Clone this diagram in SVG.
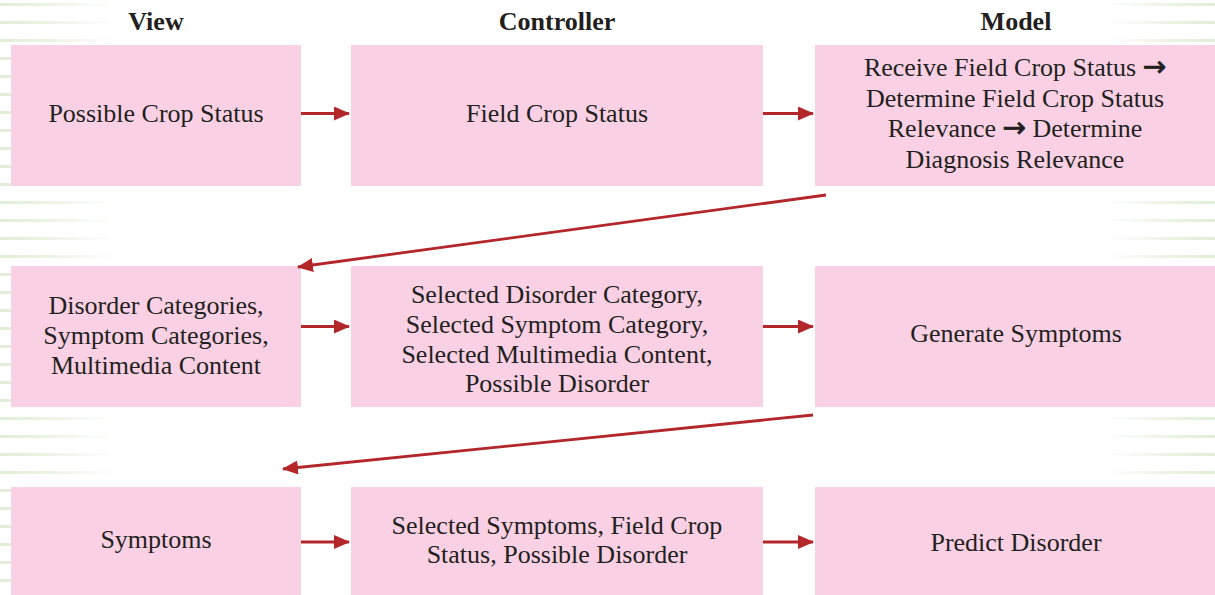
<svg xmlns="http://www.w3.org/2000/svg" width="1215" height="595" viewBox="0 0 1215 595">
  <style>
    .box { fill: #fad1e4; }
    .t { font-family: "Liberation Serif", "Times New Roman", serif; font-size: 26px; fill: #231f20; text-anchor: middle; }
    .h { font-family: "Liberation Serif", "Times New Roman", serif; font-size: 26px; font-weight: bold; fill: #231f20; text-anchor: middle; }
    .ar { font-family: "DejaVu Sans", sans-serif; font-size: 28px; stroke: #231f20; stroke-width: 0.8; }
    .c { stroke: #b3262a; stroke-width: 2.8; fill: none; marker-end: url(#ah); }
  </style>
  <defs>
    <marker id="ah" markerUnits="userSpaceOnUse" markerWidth="16" markerHeight="14" refX="15" refY="7" orient="auto">
      <path d="M0,0 L16,7 L0,14 z" fill="#b3262a"/>
    </marker>
    <pattern id="stripes" patternUnits="userSpaceOnUse" width="20" height="18" y="3">
      <rect x="0" y="0" width="20" height="3" fill="#e1edd6"/>
    </pattern>
    <linearGradient id="fadeL" x1="0" y1="0" x2="1" y2="0">
      <stop offset="0" stop-color="#fff" stop-opacity="1"/>
      <stop offset="0.5" stop-color="#fff" stop-opacity="0.55"/>
      <stop offset="1" stop-color="#fff" stop-opacity="0"/>
    </linearGradient>
    <linearGradient id="fadeR" x1="1" y1="0" x2="0" y2="0">
      <stop offset="0" stop-color="#fff" stop-opacity="1"/>
      <stop offset="0.5" stop-color="#fff" stop-opacity="0.55"/>
      <stop offset="1" stop-color="#fff" stop-opacity="0"/>
    </linearGradient>
    <mask id="mL" maskUnits="userSpaceOnUse" x="0" y="0" width="120" height="595">
      <rect x="0" y="0" width="115" height="595" fill="url(#fadeL)"/>
    </mask>
    <mask id="mR" maskUnits="userSpaceOnUse" x="1100" y="0" width="115" height="595">
      <rect x="1105" y="0" width="110" height="595" fill="url(#fadeR)"/>
    </mask>
  </defs>

  <rect x="0" y="0" width="1215" height="595" fill="#ffffff"/>
  <g id="background">
    <rect x="0" y="0" width="115" height="595" fill="url(#stripes)" mask="url(#mL)"/>
    <rect x="1105" y="0" width="110" height="595" fill="url(#stripes)" mask="url(#mR)"/>
  </g>

  <g id="headers">
    <text class="h" x="156" y="30">View</text>
    <text class="h" x="557" y="30">Controller</text>
    <text class="h" x="1016" y="30">Model</text>
  </g>

  <g id="view-1">
    <rect class="box" x="11" y="45" width="290" height="141"/>
    <text class="t" x="156" y="122">Possible Crop Status</text>
  </g>
  <g id="controller-1">
    <rect class="box" x="351" y="45" width="412" height="141"/>
    <text class="t" x="557" y="122">Field Crop Status</text>
  </g>
  <g id="model-1">
    <rect class="box" x="815" y="45" width="400" height="141"/>
    <text class="t" x="1015" y="76">Receive Field Crop Status <tspan class="ar">→</tspan></text>
    <text class="t" x="1015" y="106.5">Determine Field Crop Status</text>
    <text class="t" x="1015" y="137">Relevance <tspan class="ar">→</tspan> Determine</text>
    <text class="t" x="1015" y="167.5">Diagnosis Relevance</text>
  </g>

  <g id="view-2">
    <rect class="box" x="11" y="266" width="290" height="141"/>
    <text class="t" x="156" y="314">Disorder Categories,</text>
    <text class="t" x="156" y="344">Symptom Categories,</text>
    <text class="t" x="156" y="374">Multimedia Content</text>
  </g>
  <g id="controller-2">
    <rect class="box" x="351" y="266" width="412" height="141"/>
    <text class="t" x="557" y="303">Selected Disorder Category,</text>
    <text class="t" x="557" y="333">Selected Symptom Category,</text>
    <text class="t" x="557" y="363">Selected Multimedia Content,</text>
    <text class="t" x="557" y="392">Possible Disorder</text>
  </g>
  <g id="model-2">
    <rect class="box" x="815" y="266" width="400" height="141"/>
    <text class="t" x="1016" y="342">Generate Symptoms</text>
  </g>

  <g id="view-3">
    <rect class="box" x="11" y="487" width="290" height="108"/>
    <text class="t" x="156" y="548">Symptoms</text>
  </g>
  <g id="controller-3">
    <rect class="box" x="351" y="487" width="412" height="108"/>
    <text class="t" x="557" y="534">Selected Symptoms, Field Crop</text>
    <text class="t" x="557" y="563">Status, Possible Disorder</text>
  </g>
  <g id="model-3">
    <rect class="box" x="815" y="487" width="400" height="108"/>
    <text class="t" x="1016" y="551">Predict Disorder</text>
  </g>

  <g id="connectors">
    <line class="c" x1="301" y1="113.5" x2="349" y2="113.5"/>
    <line class="c" x1="763" y1="113.5" x2="813" y2="113.5"/>
    <line class="c" x1="826" y1="195" x2="298" y2="267"/>
    <line class="c" x1="301" y1="326.5" x2="349" y2="326.5"/>
    <line class="c" x1="763" y1="326.5" x2="813" y2="326.5"/>
    <line class="c" x1="813" y1="415" x2="283" y2="469"/>
    <line class="c" x1="301" y1="542" x2="349" y2="542"/>
    <line class="c" x1="763" y1="542" x2="813" y2="542"/>
  </g>
</svg>
